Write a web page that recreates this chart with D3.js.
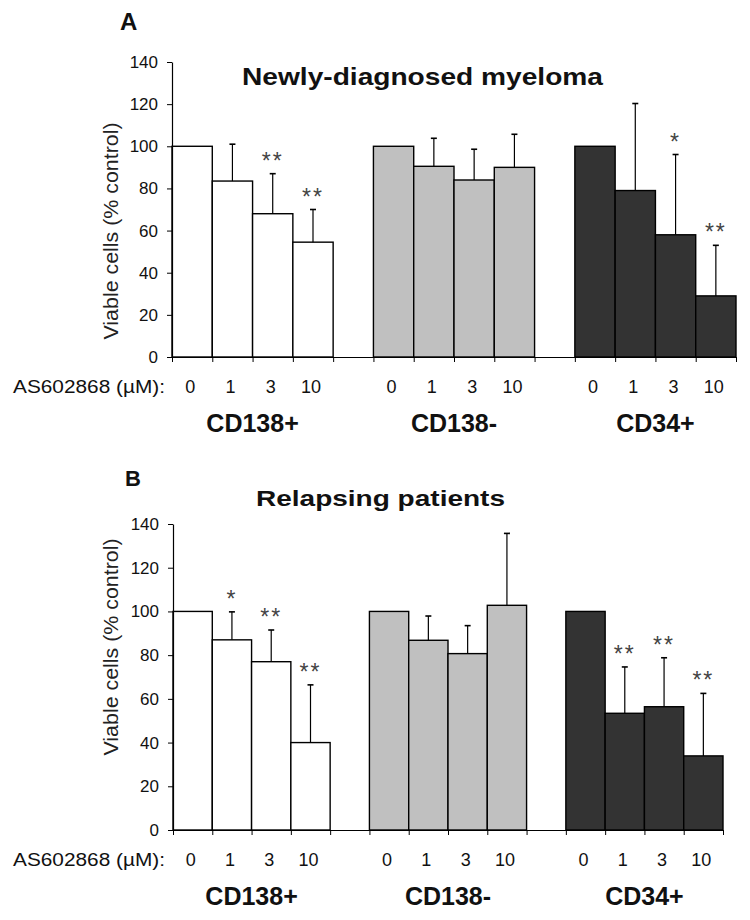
<!DOCTYPE html>
<html>
<head>
<meta charset="utf-8">
<script src="https://cdn.jsdelivr.net/npm/d3@7"></script>
<style>
  html, body { margin: 0; padding: 0; background: #fff; }
  svg { display: block; font-family: "Liberation Sans", Arial, sans-serif; }
</style>
</head>
<body>
<svg id="chart" width="750" height="920"></svg>
<script>
// ---------- DATA ----------
const doses = ["0", "1", "3", "10"];
const groups = ["CD138+", "CD138-", "CD34+"];
const yTicks = [0, 20, 40, 60, 80, 100, 120, 140];
const doseLabel = "AS602868 (\u00B5M):";
const yLabel = "Viable cells (% control)";

// Panel A – Newly-diagnosed myeloma
const titleA = "Newly-diagnosed myeloma";
const meanA_CD138pos = [100, 83.5, 68, 54.5];
const meanA_CD138neg = [100, 90.5, 84, 90];
const meanA_CD34pos  = [100, 79, 58, 29];
const sdA_CD138pos = [null, 17.5, 19, 15.5];
const sdA_CD138neg = [null, 13.3, 14.6, 15.7];
const sdA_CD34pos  = [null, 41.3, 38.1, 24];
const sigA_CD138pos = ["", "", "**", "**"];
const sigA_CD138neg = ["", "", "", ""];
const sigA_CD34pos  = ["", "", "*", "**"];

// Panel B – Relapsing patients
const titleB = "Relapsing patients";
const meanB_CD138pos = [100, 87, 77, 40];
const meanB_CD138neg = [100, 86.8, 80.7, 102.8];
const meanB_CD34pos  = [100, 53.4, 56.4, 33.9];
const sdB_CD138pos = [null, 12.8, 14.5, 26.4];
const sdB_CD138neg = [null, 11.1, 12.8, 32.9];
const sdB_CD34pos  = [null, 21.2, 22.4, 28.6];
const sigB_CD138pos = ["", "*", "**", "**"];
const sigB_CD138neg = ["", "", "", ""];
const sigB_CD34pos  = ["", "**", "**", "**"];

// ---------- STYLE / LAYOUT ----------
const groupFill = ["#ffffff", "#c0c0c0", "#333333"];

const panels = [
  {
    letter: "A", title: titleA,
    means: [meanA_CD138pos, meanA_CD138neg, meanA_CD34pos],
    sds: [sdA_CD138pos, sdA_CD138neg, sdA_CD34pos],
    sigs: [sigA_CD138pos, sigA_CD138neg, sigA_CD34pos],
    x0: 172, x1: 736, yTop: 62, yBot: 357,
    letterPos: [120, 30, 24], titlePos: [242, 85, 24, 361],
    yLabelPos: [118, 231, 20, 217]
  },
  {
    letter: "B", title: titleB,
    means: [meanB_CD138pos, meanB_CD138neg, meanB_CD34pos],
    sds: [sdB_CD138pos, sdB_CD138neg, sdB_CD34pos],
    sigs: [sigB_CD138pos, sigB_CD138neg, sigB_CD34pos],
    x0: 173, x1: 723, yTop: 524, yBot: 830,
    letterPos: [125, 486, 22], titlePos: [256, 506, 22, 249],
    yLabelPos: [118, 647, 20, 217]
  }
];

const svg = d3.select("#chart");

// slot keys: 4 bars, gap, 4 bars, gap, 4 bars
const slots = [];
groups.forEach((g, gi) => {
  doses.forEach((d, di) => slots.push(g + "|" + d));
  if (gi < groups.length - 1) slots.push("gap" + gi);
});

panels.forEach(p => {
  const g = svg.append("g");
  const x = d3.scaleBand().domain(slots).range([p.x0, p.x1]).padding(0);
  const xIdx = d3.scaleLinear().domain([0, slots.length]).range([p.x0, p.x1]);
  const y = d3.scaleLinear().domain([0, 140]).range([p.yBot, p.yTop]);

  // panel letter
  g.append("text")
    .attr("x", p.letterPos[0]).attr("y", p.letterPos[1])
    .attr("font-size", p.letterPos[2]).attr("font-weight", "bold")
    .attr("fill", "#111")
    .text(p.letter);

  // title
  g.append("text")
    .attr("x", p.titlePos[0]).attr("y", p.titlePos[1])
    .attr("font-size", p.titlePos[2]).attr("font-weight", "bold")
    .attr("textLength", p.titlePos[3]).attr("lengthAdjust", "spacingAndGlyphs")
    .attr("fill", "#111")
    .text(p.title);

  // y label
  g.append("text")
    .attr("transform", `translate(${p.yLabelPos[0]},${p.yLabelPos[1]}) rotate(-90)`)
    .attr("text-anchor", "middle")
    .attr("font-size", p.yLabelPos[2])
    .attr("textLength", p.yLabelPos[3]).attr("lengthAdjust", "spacingAndGlyphs")
    .attr("fill", "#222")
    .text(yLabel);

  // bars
  const barData = [];
  groups.forEach((gr, gi) => {
    doses.forEach((d, di) => {
      barData.push({
        key: gr + "|" + d, gi, di,
        v: p.means[gi][di], sd: p.sds[gi][di], sig: p.sigs[gi][di]
      });
    });
  });

  g.selectAll("rect.bar").data(barData).enter().append("rect")
    .attr("class", "bar")
    .attr("x", d => x(d.key))
    .attr("y", d => y(d.v))
    .attr("width", x.bandwidth())
    .attr("height", d => y(0) - y(d.v))
    .attr("fill", d => groupFill[d.gi])
    .attr("stroke", "#000").attr("stroke-width", 1.4);

  // error bars (upper only)
  const eb = barData.filter(d => d.sd != null);
  g.selectAll("line.ebv").data(eb).enter().append("line")
    .attr("x1", d => x(d.key) + x.bandwidth() / 2)
    .attr("x2", d => x(d.key) + x.bandwidth() / 2)
    .attr("y1", d => y(d.v)).attr("y2", d => y(d.v + d.sd))
    .attr("stroke", "#000").attr("stroke-width", 1.2);
  g.selectAll("line.ebc").data(eb).enter().append("line")
    .attr("x1", d => x(d.key) + x.bandwidth() / 2 - 3)
    .attr("x2", d => x(d.key) + x.bandwidth() / 2 + 3)
    .attr("y1", d => y(d.v + d.sd)).attr("y2", d => y(d.v + d.sd))
    .attr("stroke", "#000").attr("stroke-width", 1.6);

  // significance stars
  g.selectAll("text.sig").data(barData.filter(d => d.sig)).enter().append("text")
    .attr("x", d => x(d.key) + x.bandwidth() / 2)
    .attr("y", d => y(d.v + (d.sd || 0)) - 5)
    .attr("text-anchor", "middle")
    .attr("font-size", 23)
    .attr("letter-spacing", 2)
    .attr("fill", "#444")
    .text(d => d.sig);

  // y axis
  const yAxis = g.append("g")
    .attr("transform", `translate(${p.x0},0)`)
    .call(d3.axisLeft(y).tickValues(yTicks).tickSize(5).tickSizeOuter(0).tickPadding(9));
  yAxis.select(".domain").attr("stroke", "#000").attr("stroke-width", 1.2);
  yAxis.selectAll(".tick line").attr("stroke", "#000");
  yAxis.selectAll(".tick text")
    .attr("font-size", 17).attr("fill", "#111")
    .attr("font-family", "'Liberation Sans Narrow', 'Liberation Sans', Arial, sans-serif");

  // x axis (ticks at every slot boundary)
  const xAxis = g.append("g")
    .attr("transform", `translate(0,${p.yBot})`)
    .call(d3.axisBottom(xIdx).tickValues(d3.range(slots.length + 1)).tickSize(5).tickSizeOuter(0).tickFormat(""));
  xAxis.select(".domain").attr("stroke", "#000").attr("stroke-width", 1.2);
  xAxis.selectAll(".tick line").attr("stroke", "#000");

  // dose row
  g.append("text")
    .attr("x", 13).attr("y", p.yBot + 36)
    .attr("font-size", 18)
    .attr("textLength", 152).attr("lengthAdjust", "spacingAndGlyphs")
    .attr("fill", "#111")
    .text(doseLabel);
  g.selectAll("text.dose").data(barData).enter().append("text")
    .attr("x", d => x(d.key) + x.bandwidth() / 2 - 2)
    .attr("y", p.yBot + 36)
    .attr("text-anchor", "middle")
    .attr("font-size", 18)
    .attr("fill", "#111")
    .text(d => doses[d.di]);

  // group labels
  g.selectAll("text.grp").data(groups).enter().append("text")
    .attr("x", (gr, gi) => (x(gr + "|" + doses[0]) + x(gr + "|" + doses[3]) + x.bandwidth()) / 2)
    .attr("y", p.yBot + 75)
    .attr("text-anchor", "middle")
    .attr("font-size", 25).attr("font-weight", "bold")
    .attr("fill", "#111")
    .text(gr => gr);
});
</script>
</body>
</html>
